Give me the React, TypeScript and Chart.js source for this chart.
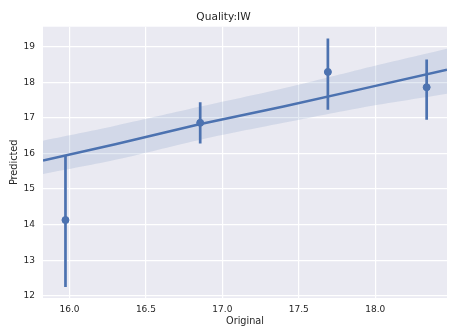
import React, { useEffect, useRef } from "react";
import { Chart, registerables } from "chart.js";

Chart.register(...registerables);

// Observed points (mean predicted per original value) with error bar ends
const pointX = [15.974, 16.855, 17.69, 18.336];
const pointY = [14.13, 16.86, 18.29, 17.86];
const errLow = [12.25, 16.28, 17.23, 16.95];
const errHigh = [15.94, 17.44, 19.23, 18.64];

// Regression line and confidence band
const fitX = [15.827, 16.3, 16.85, 17.4, 17.9, 18.469];
const fitY = [15.80, 16.26, 16.82, 17.32, 17.80, 18.35];
const bandUpper = [16.36, 16.78, 17.31, 17.83, 18.36, 18.94];
const bandLower = [15.42, 15.82, 16.38, 16.86, 17.28, 17.68];

// Axis ticks
const xTicks = [16.0, 16.5, 17.0, 17.5, 18.0];
const yTicks = [12, 13, 14, 15, 16, 17, 18, 19];

const BLUE = "#4C72B0";
const TEXT = "#262626";
const FONT = "'DejaVu Sans', sans-serif";

export default function App() {
  const ref = useRef<HTMLCanvasElement | null>(null);

  useEffect(() => {
    const canvas = ref.current;
    if (!canvas) return;

    const errorSets = pointX.map((x, i) => ({
      type: "line" as const,
      data: [
        { x, y: errLow[i] },
        { x, y: errHigh[i] },
      ],
      borderColor: BLUE,
      borderWidth: 2.7,
      pointRadius: 0,
      fill: false,
      order: 1,
    }));

    const bg = {
      id: "bg",
      beforeDraw(chart: any) {
        const { ctx, chartArea } = chart;
        ctx.save();
        ctx.fillStyle = "#EAEAF2";
        ctx.fillRect(
          chartArea.left,
          chartArea.top,
          chartArea.right - chartArea.left,
          chartArea.bottom - chartArea.top
        );
        ctx.restore();
      },
    };

    const chart = new Chart(canvas, {
      type: "scatter",
      data: {
        datasets: [
          {
            type: "line",
            data: fitX.map((x, i) => ({ x, y: bandUpper[i] })),
            borderWidth: 0,
            borderColor: "rgba(0,0,0,0)",
            backgroundColor: "rgba(76,114,176,0.15)",
            pointRadius: 0,
            fill: "+1",
            tension: 0.4,
            order: 5,
          },
          {
            type: "line",
            data: fitX.map((x, i) => ({ x, y: bandLower[i] })),
            borderWidth: 0,
            borderColor: "rgba(0,0,0,0)",
            pointRadius: 0,
            fill: false,
            tension: 0.4,
            order: 5,
          },
          {
            type: "line",
            data: fitX.map((x, i) => ({ x, y: fitY[i] })),
            borderColor: BLUE,
            borderWidth: 2.5,
            pointRadius: 0,
            fill: false,
            order: 2,
          },
          ...errorSets,
          {
            type: "scatter",
            data: pointX.map((x, i) => ({ x, y: pointY[i] })),
            backgroundColor: BLUE,
            borderColor: BLUE,
            pointRadius: 3.5,
            order: 0,
          },
        ] as any,
      },
      options: {
        responsive: false,
        animation: false,
        events: [],
        layout: { padding: { left: 0, right: 7, top: 0, bottom: 0 } },
        plugins: {
          legend: { display: false },
          tooltip: { enabled: false },
          title: {
            display: true,
            text: "Quality:IW",
            color: TEXT,
            font: { family: FONT, size: 10.6, weight: "normal" },
            padding: { top: 11, bottom: 3 },
          },
        },
        scales: {
          x: {
            type: "linear",
            min: 15.827,
            max: 18.469,
            border: { display: false },
            grid: { color: "#FFFFFF", lineWidth: 1.2, drawTicks: false },
            afterBuildTicks: (s: any) => {
              s.ticks = xTicks.map((v) => ({ value: v }));
            },
            afterFit: (s: any) => {
              s.height = 31;
            },
            ticks: {
              color: TEXT,
              padding: 6,
              font: { family: FONT, size: 9 },
              callback: (v: any) => Number(v).toFixed(1),
            },
            title: {
              display: true,
              text: "Original",
              color: TEXT,
              font: { family: FONT, size: 9.7 },
              padding: { top: 0, bottom: 2 },
            },
          },
          y: {
            type: "linear",
            min: 11.94,
            max: 19.56,
            border: { display: false },
            grid: { color: "#FFFFFF", lineWidth: 1.2, drawTicks: false },
            afterBuildTicks: (s: any) => {
              s.ticks = yTicks.map((v) => ({ value: v }));
            },
            afterFit: (s: any) => {
              s.width = 43;
            },
            ticks: {
              color: TEXT,
              padding: 8,
              font: { family: FONT, size: 9 },
              callback: (v: any) => String(v),
            },
            title: {
              display: true,
              text: "Predicted",
              color: TEXT,
              font: { family: FONT, size: 9.7 },
              padding: { top: 9, bottom: 0 },
            },
          },
        },
      },
      plugins: [bg],
    } as any);

    return () => chart.destroy();
  }, []);

  return (
    <div
      style={{
        position: "absolute",
        left: 0,
        top: 0,
        width: 454,
        height: 329,
        background: "#FFFFFF",
      }}
    >
      <canvas ref={ref} width={454} height={329} />
    </div>
  );
}
